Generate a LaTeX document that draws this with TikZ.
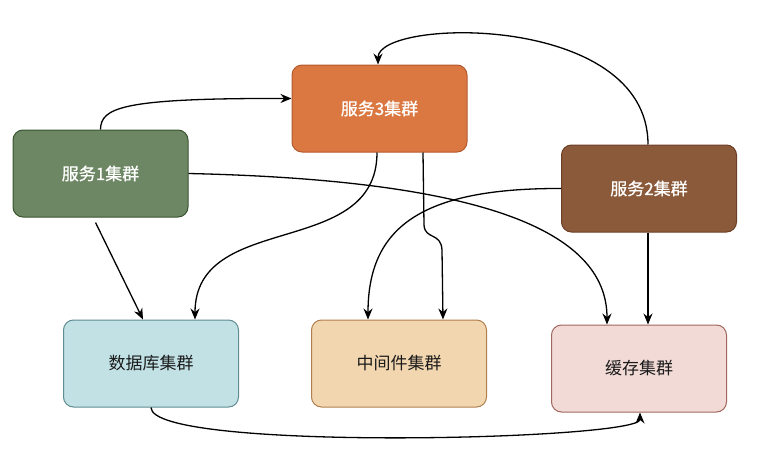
\documentclass[tikz,border=0pt]{standalone}
\usepackage{fontspec}
\setmainfont{Noto Sans CJK SC}
\newfontfamily\boldish[FakeBold=0.6]{Noto Sans CJK SC}
\usetikzlibrary{arrows.meta}
\definecolor{sOneFill}{HTML}{6D8764}\definecolor{sOneLine}{HTML}{3A5431}
\definecolor{sThreeFill}{HTML}{DB7841}\definecolor{sThreeLine}{HTML}{B45A30}
\definecolor{sTwoFill}{HTML}{8B5A3B}\definecolor{sTwoLine}{HTML}{6D3F26}
\definecolor{dbFill}{HTML}{C1E1E5}\definecolor{dbLine}{HTML}{5E8C92}
\definecolor{mwFill}{HTML}{F2D6B0}\definecolor{mwLine}{HTML}{B07F4D}
\definecolor{caFill}{HTML}{F2DBD7}\definecolor{caLine}{HTML}{A0675E}
\definecolor{txt}{HTML}{1A1A1A}
\tikzset{
  box/.style={rounded corners=10pt, minimum width=175pt, minimum height=87pt, line width=1pt, font=\fontsize{17}{20}\selectfont, inner sep=0pt},
  svc/.style={box, text=white, font=\boldish\fontsize{17}{20}\selectfont},
  res/.style={box, text=txt},
  link/.style={line width=1.3pt, -{Stealth[length=11pt,width=9pt]}}
}
\begin{document}
\begin{tikzpicture}[x=1pt,y=-1pt]
\useasboundingbox (0,0) rectangle (758,466);
\node[svc, fill=sOneFill, draw=sOneLine] (s1) at (100.5,173.5) {服务1集群};
\node[svc, fill=sThreeFill, draw=sThreeLine] (s3) at (379.5,108.5) {服务3集群};
\node[svc, fill=sTwoFill, draw=sTwoLine] (s2) at (649,188.5) {服务2集群};
\node[res, fill=dbFill, draw=dbLine] (db) at (151,363.5) {数据库集群};
\node[res, fill=mwFill, draw=mwLine] (mw) at (399,363.5) {中间件集群};
\node[res, fill=caFill, draw=caLine] (ca) at (639,368.5) {缓存集群};

% s1 -> s3
\draw[link] (s1.north) .. controls (101,108) and (120,98) .. ([yshift=10pt]s3.west);
% s1 -> ca
\draw[link] (s1.east) .. controls (480,180) and (607,230) .. ([xshift=-32pt]ca.north);
% s1 -> db
\draw[link] ([xshift=-5pt,yshift=-5pt]s1.south) -- ([xshift=-8pt]db.north);
% s3 -> db
\draw[link] ([xshift=-2.5pt]s3.south) .. controls (377,260) and (195,210) .. ([xshift=44pt]db.north);
% s3 -> mw
\draw[link] ([xshift=43.5pt]s3.south) -- (424,225) .. controls (425,240) and (441,232) .. (442,250) -- ([xshift=44pt]mw.north);
% s2 -> mw
\draw[link] (s2.west) .. controls (420,188) and (368,228) .. ([xshift=-31pt]mw.north);
% s2 -> s3
\draw[link] ([xshift=-1pt]s2.north) .. controls (648,12) and (378,18) .. ([xshift=-1.5pt]s3.north);
% s2 -> ca
\draw[link] ([xshift=-1pt]s2.south) -- ([xshift=9pt]ca.north);
% db -> ca
\draw[link] (db.south) .. controls (151,452) and (640,440) .. ([xshift=1pt]ca.south);
\end{tikzpicture}
\end{document}
